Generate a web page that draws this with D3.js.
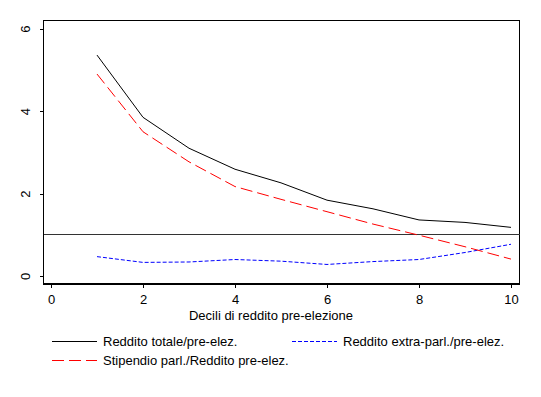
<!DOCTYPE html>
<html>
<head>
<meta charset="utf-8">
<script src="https://cdn.jsdelivr.net/npm/d3@7"></script>
<style>
  html, body { margin: 0; padding: 0; background: #fff; }
  svg { display: block; }
  text { font-family: "Liberation Sans", Arial, sans-serif; fill: #000; }
</style>
</head>
<body>
<svg id="chart" width="541" height="397"></svg>
<script>
// ---- data ----
const deciles = [1, 2, 3, 4, 5, 6, 7, 8, 9, 10];
const totale = [5.36, 3.85, 3.10, 2.59, 2.26, 1.84, 1.63, 1.36, 1.30, 1.18];
const stipendio = [4.90, 3.50, 2.77, 2.17, 1.86, 1.56, 1.26, 0.99, 0.71, 0.41];
const extra = [0.47, 0.33, 0.34, 0.40, 0.36, 0.28, 0.35, 0.40, 0.57, 0.77];
const xTicks = [0, 2, 4, 6, 8, 10];
const yTicks = [0, 2, 4, 6];
const refValue = 1;
const xTitle = "Decili di reddito pre-elezione";
const seriesNames = ["Reddito totale/pre-elez.", "Reddito extra-parl./pre-elez.", "Stipendio parl./Reddito pre-elez."];

const svg = d3.select("#chart");
const frame = { left: 43.5, right: 519.5, top: 20.5, bottom: 284 };
const x = d3.scaleLinear().domain([0, 10]).range([51, 511]);
const y = d3.scaleLinear().domain([0, 6]).range([276, 28.7]);
const fmt = d3.format("d");

// frame
svg.append("rect")
  .attr("x", frame.left).attr("y", frame.top)
  .attr("width", frame.right - frame.left).attr("height", frame.bottom - frame.top)
  .attr("fill", "none").attr("stroke", "#000").attr("stroke-width", 1)
  .attr("shape-rendering", "crispEdges");

// bottom axis
const xAxis = d3.axisBottom(x).tickValues(xTicks).tickFormat(fmt).tickSize(4).tickSizeOuter(0).tickPadding(7);
const gx = svg.append("g").attr("transform", `translate(0,${frame.bottom})`).call(xAxis);
gx.select(".domain").attr("d", `M${frame.left},0H${frame.right}`).attr("stroke-width", 2).attr("shape-rendering", "crispEdges");
gx.selectAll(".tick line").attr("shape-rendering", "crispEdges");
gx.selectAll(".tick text").attr("font-size", 13).attr("font-family", '"Liberation Sans", Arial, sans-serif').attr("fill", "#000");

// left axis
const yAxis = d3.axisLeft(y).tickValues(yTicks).tickFormat(fmt).tickSize(4).tickSizeOuter(0).tickPadding(0);
const gy = svg.append("g").attr("transform", `translate(${frame.left},0)`).call(yAxis);
gy.select(".domain").attr("d", `M0,${frame.top}V${frame.bottom}`).attr("shape-rendering", "crispEdges");
gy.selectAll(".tick line").attr("shape-rendering", "crispEdges");
gy.selectAll(".tick text")
  .attr("font-size", 13).attr("font-family", '"Liberation Sans", Arial, sans-serif').attr("fill", "#000")
  .attr("text-anchor", "middle").attr("x", null).attr("dy", null)
  .attr("transform", "translate(-13.5,0) rotate(-90)");

// x title
svg.append("text").attr("x", 271).attr("y", 320).attr("text-anchor", "middle")
  .attr("font-size", 13).text(xTitle);

// reference line
svg.append("line")
  .attr("x1", frame.left).attr("x2", frame.right)
  .attr("y1", y(refValue)).attr("y2", y(refValue))
  .attr("stroke", "#333").attr("stroke-width", 1).attr("shape-rendering", "crispEdges");

// series
const line = d3.line().x((d, i) => x(deciles[i])).y(d => y(d));
const styles = [
  { data: totale, color: "#000", dash: null },
  { data: extra, color: "#0000ff", dash: "4,2" },
  { data: stipendio, color: "#ff0000", dash: "12,5" }
];
styles.forEach(s => {
  svg.append("path").datum(s.data).attr("d", line)
    .attr("fill", "none").attr("stroke", s.color).attr("stroke-width", 1)
    .attr("stroke-dasharray", s.dash);
});

// legend
const legendItems = [
  { name: seriesNames[0], color: "#000", dash: null, lx: 52, ly: 341.5 },
  { name: seriesNames[1], color: "#0000ff", dash: "4,2", lx: 292, ly: 341.5 },
  { name: seriesNames[2], color: "#ff0000", dash: "12,5", lx: 52, ly: 360.5 }
];
legendItems.forEach(it => {
  svg.append("line").attr("x1", it.lx).attr("x2", it.lx + 45)
    .attr("y1", it.ly).attr("y2", it.ly)
    .attr("stroke", it.color).attr("stroke-width", 1).attr("stroke-dasharray", it.dash);
  svg.append("text").attr("x", it.lx + 51).attr("y", it.ly + 4.5)
    .attr("font-size", 13).text(it.name);
});
</script>
</body>
</html>
